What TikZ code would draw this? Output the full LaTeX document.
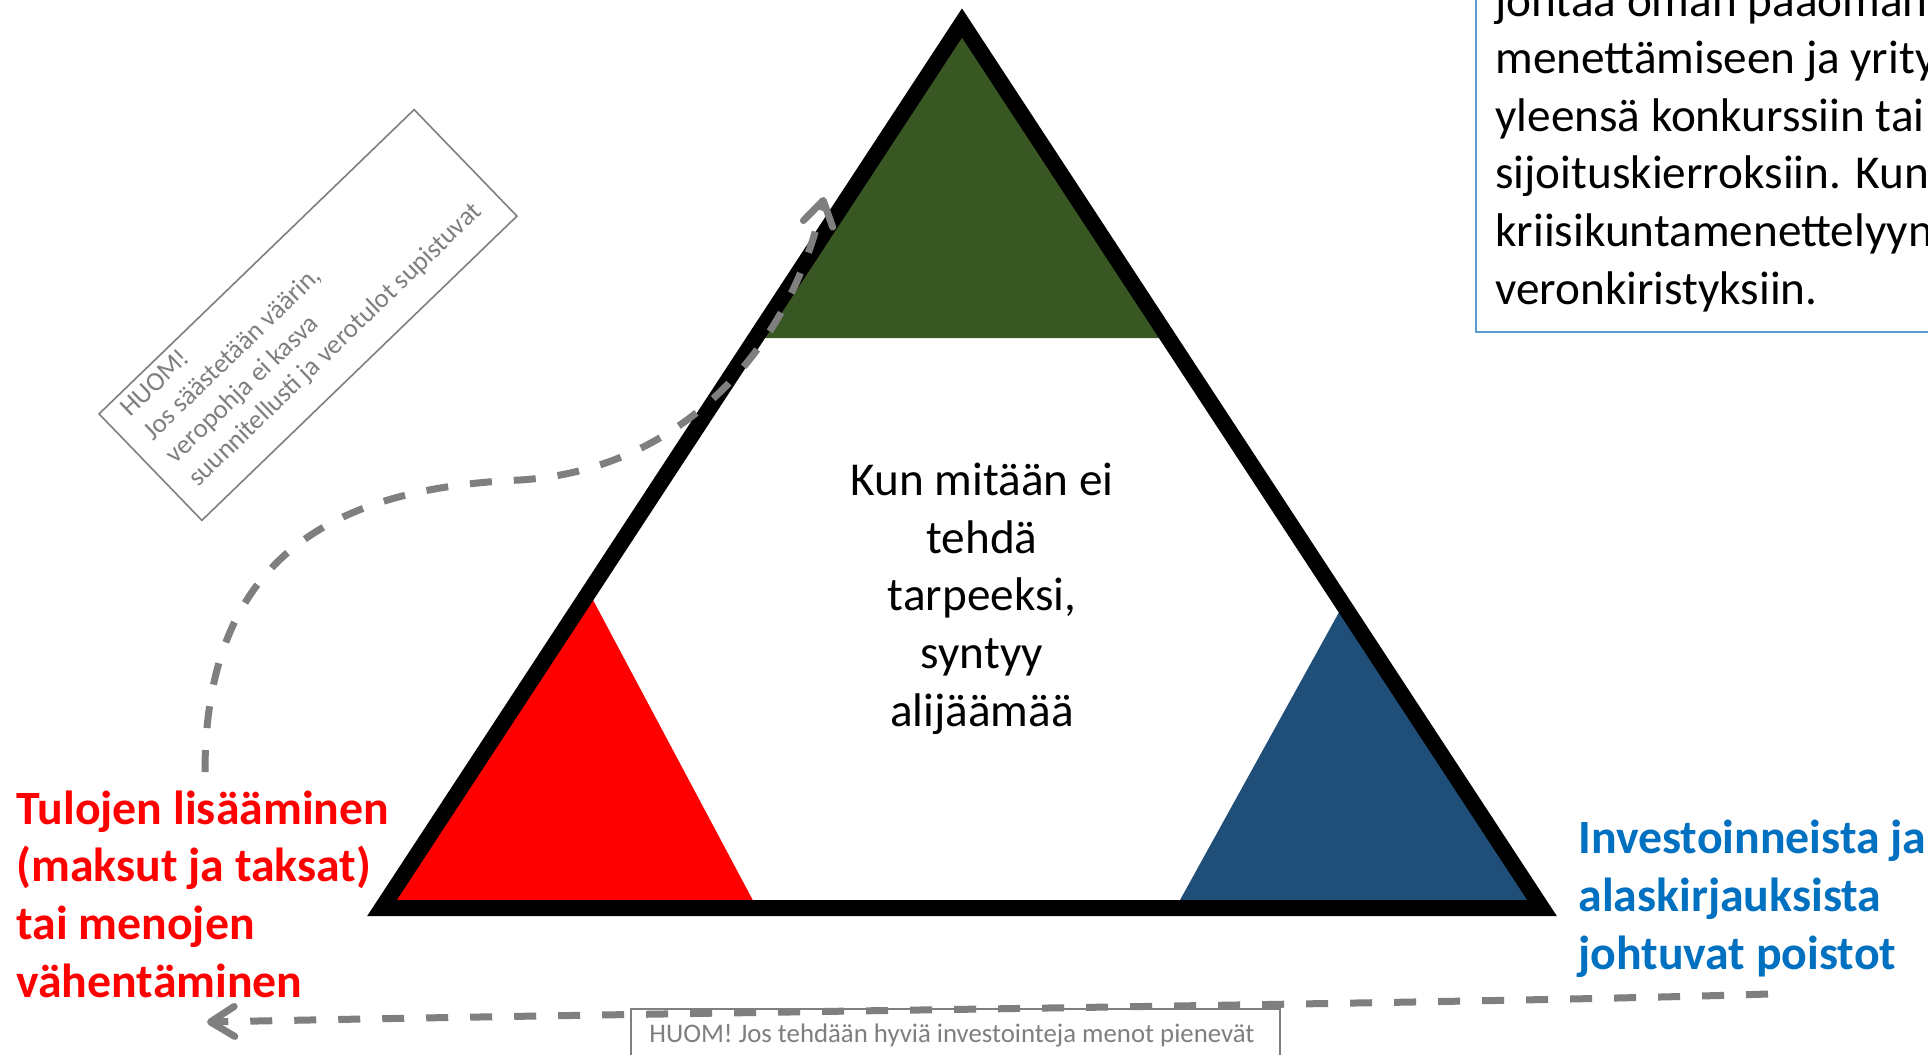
\documentclass[tikz,border=0pt]{standalone}
\usepackage{fontspec}
\setmainfont{Carlito}
\usetikzlibrary{arrows.meta}

\definecolor{leafgreen}{HTML}{385723}
\definecolor{deepblue}{HTML}{1F4E79}
\definecolor{textblue}{HTML}{0070C0}
\definecolor{notegray}{HTML}{7F7F7F}
\definecolor{frameblue}{HTML}{5B9BD5}

\newcommand{\bigfont}{\fontsize{23.6}{28.8}\selectfont}
\newcommand{\boldfont}{\fontsize{23.9}{28.8}\selectfont\bfseries}
\newcommand{\notefont}{\fontsize{13.4}{16.2}\selectfont}

\begin{document}
\begin{tikzpicture}[x=0.5pt,y=-0.5pt,
  frame/.style={line width=8pt,line join=miter},
  sidetext/.style={font=\boldfont,align=left,inner sep=0pt},
  midtext/.style={font=\bigfont,align=center,inner sep=0pt},
  notebox/.style={draw=notegray,line width=0.8pt,inner sep=0pt},
  notetext/.style={font=\notefont,text=notegray,align=left,inner sep=0pt},
  flow/.style={draw=notegray,line width=3.5pt,dash pattern=on 11pt off 11pt,
    -{Straight Barb[length=12pt,width=15pt,round]}}]
\useasboundingbox (0,0) rectangle (1928,1055);
\clip (0,0) rectangle (1928,1055);
\fill[white] (0,0) rectangle (1928,1055);

% coloured corners
\fill[red] (589,592.5) -- (382,908) -- (757,908) -- cycle;
\fill[leafgreen] (962,23) -- (755.7,338) -- (1168.3,338) -- cycle;
\fill[deepblue] (1343,605) -- (1175.6,908) -- (1542,908) -- cycle;
\draw[frame] (962,23) -- (382,908) -- (1542,908) -- cycle;

% texts (base = last line)
\node[midtext,anchor=base] (deficit) at (982,726)
  {Kun mitään ei\\tehdä\\tarpeeksi,\\syntyy\\alijäämää};
\node[sidetext,text=red,anchor=base west] (income) at (16,997)
  {Tulojen lisääminen\\(maksut ja taksat)\\tai menojen\\vähentäminen};
\node[sidetext,text=textblue,anchor=base west] (writeoff) at (1578,969)
  {Investoinneista ja\\alaskirjauksista\\johtuvat poistot};

% box at the top right
\draw[frameblue,line width=1pt] (1476,-10) |- (1940,332);
\node[midtext,align=left,anchor=base west] (crisis) at (1495,304)
  {johtaa oman pääoman\\menettämiseen ja yritys\\yleensä konkurssiin tai\\sijoituskierroksiin. Kun\\kriisikuntamenettelyyn\\veronkiristyksiin.};

% notes
\node[notebox,rotate=44,minimum width=219pt,minimum height=74pt] (savebox) at (308,315) {};
\node[notetext,rotate=44,anchor=base west] (savenote) at (198,488)
  {HUOM!\\Jos säästetään väärin,\\veropohja ei kasva\\suunnitellusti ja verotulot supistuvat};
\node[notebox,anchor=north west,minimum width=324.5pt,minimum height=40pt] (investbox) at (630,1008) {};
\node[notetext,anchor=base west] (investnote) at (649,1042)
  {HUOM! Jos tehdään hyviä investointeja menot pienevät};

% dashed arrows
\coordinate (loopstart) at (205,772);
\coordinate (loopmid) at (520,480);
\coordinate (looptip) at (824,197);
\draw[flow] (loopstart) .. controls (205,560) and (330,488) .. (loopmid)
  .. controls (680,470) and (790,350) .. (looptip);
\coordinate (backstart) at (1768,994);
\coordinate (backtip) at (207,1022);
\draw[flow] (backstart) .. controls (1500,1003) and (700,1012) .. (backtip);
\end{tikzpicture}
\end{document}
